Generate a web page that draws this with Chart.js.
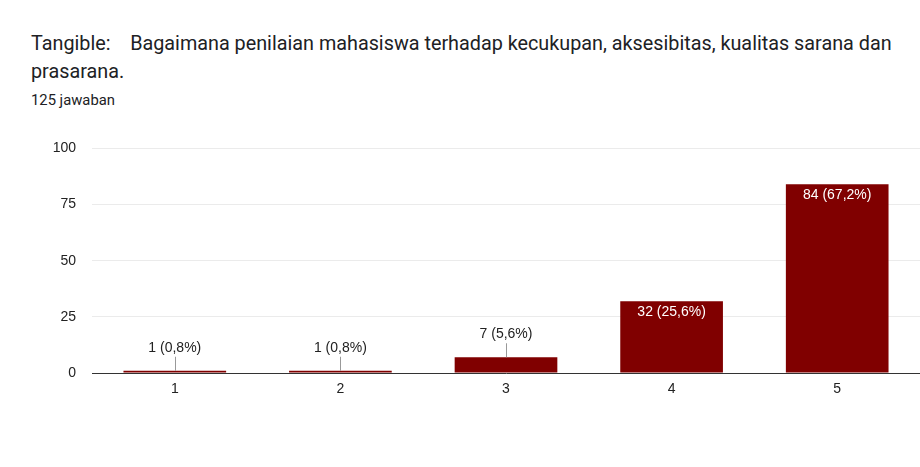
<!DOCTYPE html>
<html>
<head>
<meta charset="utf-8">
<script src="https://cdn.jsdelivr.net/npm/chart.js@4"></script>
<style>
  html, body { margin: 0; padding: 0; background: #fff; }
  body { width: 920px; height: 467px; position: relative; overflow: hidden; font-family: Roboto, "Noto Sans", sans-serif; }
  #title { position: absolute; left: 31px; top: 30px; width: 889px; font-size: 19.8px; line-height: 28px; color: #202124; white-space: nowrap; }
  #count { position: absolute; left: 31px; top: 91px; font-size: 14.8px; color: #202124; }
  #wrap { position: absolute; left: 0; top: 124px; width: 920px; height: 286px; }
</style>
</head>
<body>
<div id="title">Tangible:&nbsp;&nbsp;&nbsp;&nbsp;Bagaimana penilaian mahasiswa terhadap kecukupan, aksesibitas, kualitas sarana dan<br>prasarana.</div>
<div id="count">125 jawaban</div>
<div id="wrap"><canvas id="canvas"></canvas></div>
<script>
const categories = ['1', '2', '3', '4', '5'];
const counts = [1, 1, 7, 32, 84];
const percents = ['0,8%', '0,8%', '5,6%', '25,6%', '67,2%'];
const yTicks = [0, 25, 50, 75, 100];

const labelFont = '14px "Liberation Sans", Arial, sans-serif';

// labels above small bars (with a leader line), inside big ones
const barLabels = {
    id: 'barLabels',
    afterDatasetsDraw(chart) {
        const ctx = chart.ctx;
        const meta = chart.getDatasetMeta(0);
        ctx.save();
        ctx.font = labelFont;
        ctx.textAlign = 'center';
        ctx.textBaseline = 'middle';
        meta.data.forEach((bar, i) => {
            const txt = counts[i] + ' (' + percents[i] + ')';
            const h = bar.base - bar.y;
            if (h > 40) {
                ctx.fillStyle = '#ffffff';
                ctx.fillText(txt, bar.x, bar.y + 11);
            } else {
                ctx.strokeStyle = '#999999';
                ctx.lineWidth = 1;
                ctx.beginPath();
                ctx.moveTo(Math.round(bar.x) + 0.5, bar.y - 14);
                ctx.lineTo(Math.round(bar.x) + 0.5, bar.y);
                ctx.stroke();
                ctx.fillStyle = '#222222';
                ctx.fillText(txt, bar.x, bar.y - 23);
            }
        });
        ctx.restore();
    }
};

const ctx = document.getElementById('canvas').getContext('2d');
window.myBar = new Chart(ctx, {
    type: 'bar',
    data: {
        labels: categories,
        datasets: [{
            data: counts,
            backgroundColor: '#800000',
            borderWidth: 0,
            categoryPercentage: 1,
            barPercentage: 0.62
        }]
    },
    options: {
        responsive: true,
        maintainAspectRatio: false,
        animation: false,
        layout: { padding: { top: 7, right: 0, left: 0, bottom: 0 } },
        plugins: {
            legend: { display: false },
            title: { display: false },
            tooltip: { enabled: false }
        },
        scales: {
            x: {
                grid: { display: false },
                border: { color: '#333333', width: 1 },
                ticks: { color: '#222222', font: { family: '"Liberation Sans", Arial', size: 14 }, padding: 0 },
                afterFit: (s) => { s.height = 37; }
            },
            y: {
                min: 0,
                max: 100,
                afterBuildTicks: (s) => { s.ticks = yTicks.map(v => ({ value: v })); },
                grid: { color: '#ebebeb', drawTicks: false },
                border: { display: false },
                ticks: { color: '#222222', font: { family: '"Liberation Sans", Arial', size: 14 }, padding: 16 },
                afterFit: (s) => { s.width = 92; }
            }
        }
    },
    plugins: [barLabels]
});
</script>
</body>
</html>
